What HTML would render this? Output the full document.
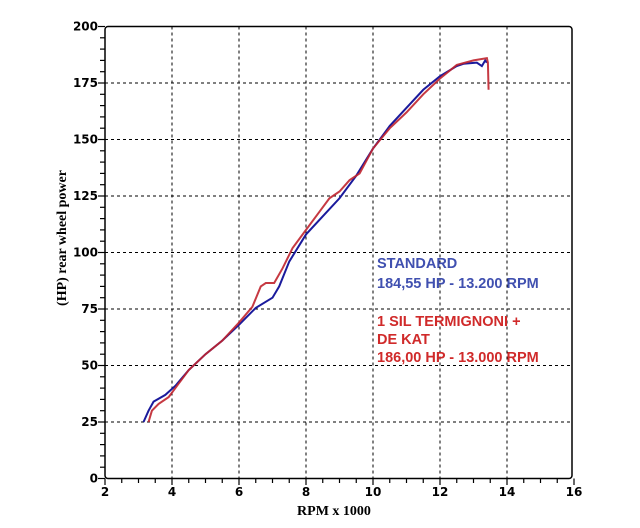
<!DOCTYPE html>
<html><head><style>
body{margin:0;background:#fff;}
svg text{font-family:"DejaVu Sans","Liberation Sans",sans-serif;font-weight:bold;}
svg text.lib{font-family:"Liberation Sans",sans-serif;}
svg text.ser{font-family:"Liberation Serif",serif;}
</style></head><body>
<svg width="640" height="523" xmlns="http://www.w3.org/2000/svg">
<rect width="640" height="523" fill="#fff"/>
<g id="grid" stroke="#000" stroke-width="1" stroke-dasharray="3,3" fill="none"></g>
<rect x="105" y="26.5" width="467" height="452" fill="none" stroke="#000" stroke-width="1.5" rx="3"/>
<g id="ticks" stroke="#000" stroke-width="1.2"></g>
<g id="labels" font-size="12" fill="#000"></g>
<text class="ser" x="334" y="515" font-size="14" text-anchor="middle">RPM x 1000</text>
<text class="ser" transform="translate(66,238) rotate(-90)" font-size="14" text-anchor="middle">(HP) rear wheel power</text>
<polyline id="blue" fill="none" stroke="#1a1a9c" stroke-width="2"/>
<polyline id="red" fill="none" stroke="#c0242e" stroke-width="2" opacity="0.9"/>
<g font-size="14.5">
<text class="lib" x="377" y="268" fill="#4050b0">STANDARD</text>
<text class="lib" x="377" y="288" fill="#4050b0">184,55 HP - 13.200 RPM</text>
<text class="lib" x="377" y="326" fill="#d02a2a">1 SIL TERMIGNONI +</text>
<text class="lib" x="377" y="344" fill="#d02a2a">DE KAT</text>
<text class="lib" x="377" y="362" fill="#d02a2a">186,00 HP - 13.000 RPM</text>
</g>
</svg>
<script>
const px=x=>105+33.5*(x-2), py=h=>478.5-2.26*h;
const ns="http://www.w3.org/2000/svg";
const g=document.getElementById('grid'),t=document.getElementById('ticks'),l=document.getElementById('labels');
function el(p,tag,a){const e=document.createElementNS(ns,tag);for(const k in a)e.setAttribute(k,a[k]);p.appendChild(e);return e;}
for(let x=4;x<=14;x+=2)el(g,'line',{x1:px(x),x2:px(x),y1:26.5,y2:478.5});
for(let h=25;h<=175;h+=25)el(g,'line',{x1:105,x2:572,y1:py(h),y2:py(h)});
for(let x=2;x<=16;x+=0.5)el(t,'line',{x1:px(x),x2:px(x),y1:478.5,y2:x%2==0?485:483});
for(let h=0;h<=200;h+=5)el(t,'line',{x1:h%25==0?98:100,x2:105,y1:py(h),y2:py(h)});
for(let x=2;x<=16;x+=2){const e=el(l,'text',{x:px(x),y:496,'text-anchor':'middle'});e.textContent=x;}
for(let h=0;h<=200;h+=25){const e=el(l,'text',{x:98,y:py(h)+4,'text-anchor':'end'});e.textContent=h;}
const B=[[3.15,25],[3.3,30],[3.45,34],[3.8,37],[4.1,41],[4.5,48],[5,55],[5.5,61],[6,68],[6.5,75.5],[7,80],[7.2,85],[7.5,96],[8,108],[8.5,116],[9,124],[9.5,134],[10,146],[10.5,156],[11,164],[11.5,172],[12,178],[12.5,182.5],[12.7,183.5],[13.1,184],[13.25,182.5],[13.35,185],[13.4,184]];
const R=[[3.3,25],[3.4,30],[3.6,33],[3.9,36],[4.2,42],[4.5,48],[5,55],[5.5,61],[6,69],[6.4,76],[6.65,85],[6.8,86.5],[7.05,86.5],[7.3,93],[7.6,102],[8,110],[8.4,118],[8.7,124],[9,127],[9.3,132],[9.6,135],[10,146],[10.5,155],[11,162],[11.5,170],[12,177],[12.5,183],[13,185],[13.4,186],[13.43,184],[13.45,172]];
document.getElementById('blue').setAttribute('points',B.map(p=>px(p[0])+','+py(p[1])).join(' '));
document.getElementById('red').setAttribute('points',R.map(p=>px(p[0])+','+py(p[1])).join(' '));
</script>
</body></html>
